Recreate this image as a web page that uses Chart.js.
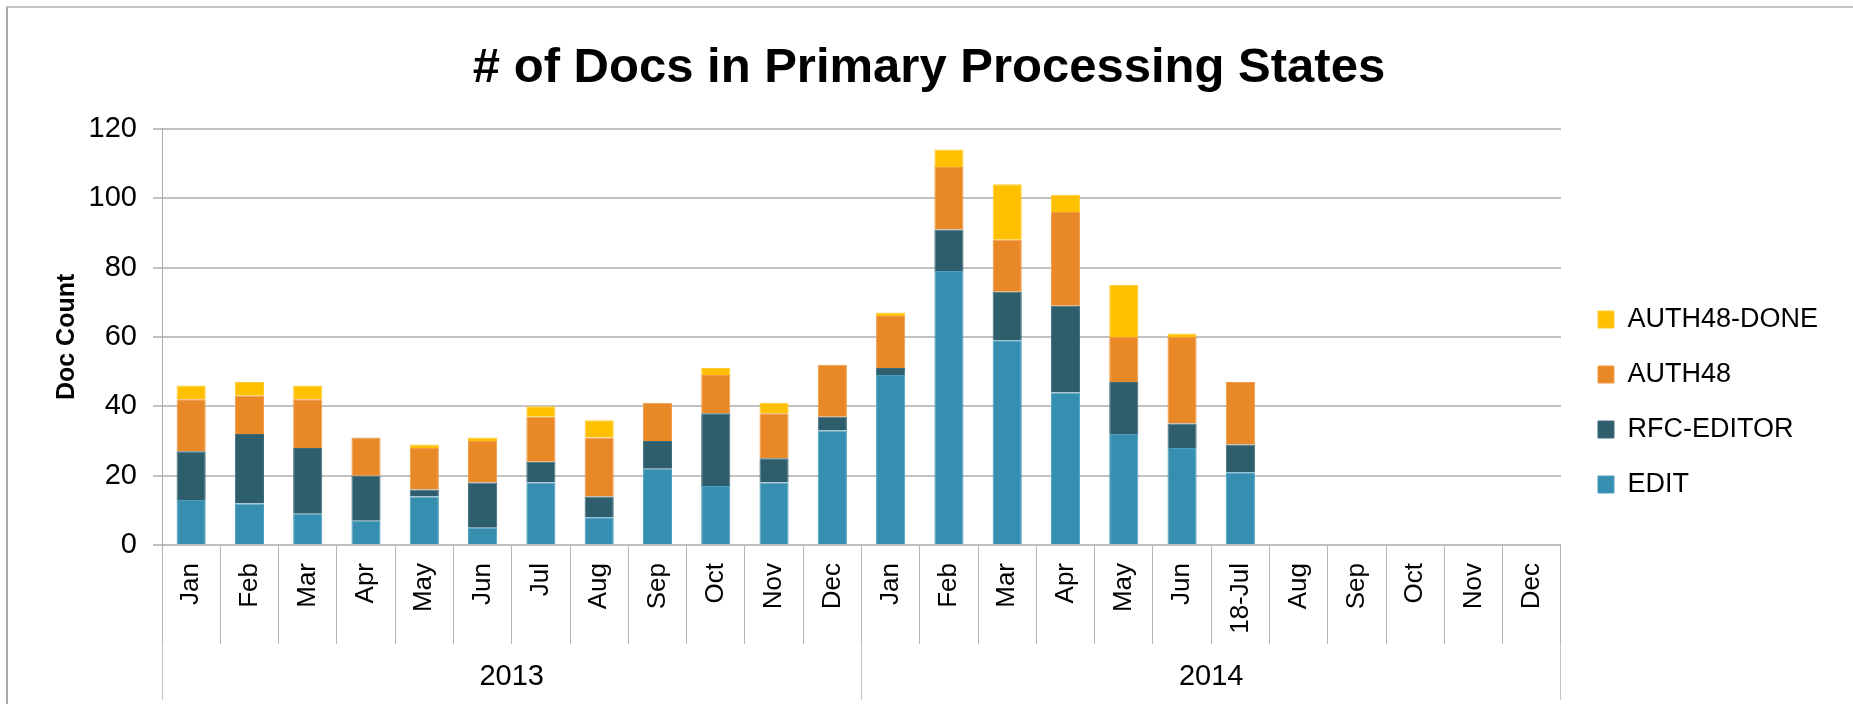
<!DOCTYPE html>
<html>
<head>
<meta charset="utf-8">
<script src="https://cdn.jsdelivr.net/npm/chart.js@4.4.0/dist/chart.umd.min.js"></script>
<style>
  html, body { margin: 0; padding: 0; background: #fff; }
  #wrap { position: relative; width: 1853px; height: 704px; overflow: hidden; }
  #frame { position: absolute; left: 6px; top: 6px; width: 1900px; height: 760px;
    border-top: 2px solid #c4c4c4; border-left: 2px solid #a8a8a8; pointer-events: none; }
</style>
</head>
<body>
<div id="wrap">
  <canvas id="myChart" width="1853" height="704"></canvas>
  <div id="frame"></div>
</div>
<script>
const months = ['Jan', 'Feb', 'Mar', 'Apr', 'May', 'Jun', 'Jul', 'Aug', 'Sep', 'Oct', 'Nov', 'Dec',
  'Jan', 'Feb', 'Mar', 'Apr', 'May', 'Jun', '18-Jul', 'Aug', 'Sep', 'Oct', 'Nov', 'Dec'];
const years = ['2013', '2014'];
const yTicks = [0, 20, 40, 60, 80, 100, 120];

const edit = [13, 12, 9, 7, 14, 5, 18, 8, 22, 17, 18, 33, 49, 79, 59, 44, 32, 28, 21, null, null, null, null, null];
const rfcEditor = [14, 20, 19, 13, 2, 13, 6, 6, 8, 21, 7, 4, 2, 12, 14, 25, 15, 7, 8, null, null, null, null, null];
const auth48 = [15, 11, 14, 11, 12, 12, 13, 17, 11, 11, 13, 15, 15, 18, 15, 27, 13, 25, 18, null, null, null, null, null];
const auth48Done = [4, 4, 4, 0, 1, 1, 3, 5, 0, 2, 3, 0, 1, 5, 16, 5, 15, 1, 0, null, null, null, null, null];

Chart.defaults.font.family = '"Liberation Sans", Arial, sans-serif';
Chart.defaults.color = '#000';

function series(label, data, color, edge) {
  return {
    label: label,
    data: data,
    backgroundColor: color,
    borderColor: edge,
    borderWidth: 1,
    categoryPercentage: 1,
    barPercentage: 0.5
  };
}

// move title and legend a little, the way the original sheet places them
const nudge = {
  id: 'nudge',
  afterLayout: function (chart) {
    chart.titleBlock.left += 39;
    chart.legend.left += 9;
    chart.legend.right += 9;
    chart.legend.top += 52;
    chart.legend.bottom += 52;
  }
};

const ctx = document.getElementById('myChart');
new Chart(ctx, {
  type: 'bar',
  data: {
    labels: months,
    datasets: [
      series('EDIT', edit, '#368FB1', '#4c9fbe'),
      series('RFC-EDITOR', rfcEditor, '#2E5D6C', '#3d6b7a'),
      series('AUTH48', auth48, '#E98826', '#f09a45'),
      series('AUTH48-DONE', auth48Done, '#FFC000', '#ffcc33')
    ]
  },
  plugins: [nudge],
  options: {
    responsive: false,
    devicePixelRatio: 1,
    animation: false,
    layout: { padding: { left: 0, right: 34, top: 0, bottom: 4 } },
    plugins: {
      title: {
        display: true,
        text: '# of Docs in Primary Processing States',
        font: { size: 49, weight: 'bold' },
        color: '#000',
        padding: { top: 39, bottom: 31 }
      },
      legend: {
        position: 'right',
        reverse: true,
        labels: {
          boxWidth: 16,
          boxHeight: 17,
          padding: 28,
          font: { size: 27 },
          color: '#000'
        }
      },
      tooltip: { enabled: false }
    },
    scales: {
      x: {
        stacked: true,
        grid: { drawOnChartArea: false, tickLength: 99, color: '#b4b4b4', lineWidth: 1 },
        border: { color: '#bdbdbd', width: 2 },
        ticks: { minRotation: 90, maxRotation: 90, autoSkip: false, padding: -81, font: { size: 26 }, color: '#000' },
        afterFit: function (scale) { scale.height = 99; }
      },
      x2: {
        type: 'category',
        position: 'bottom',
        labels: years,
        offset: true,
        grid: { offset: true, drawOnChartArea: false, tickLength: 56, color: '#c4c4c4', lineWidth: 1 },
        border: { display: false },
        ticks: { maxRotation: 0, padding: -40, font: { size: 29 }, color: '#000' },
        afterFit: function (scale) { scale.height = 56; }
      },
      y: {
        stacked: true,
        min: 0,
        max: 120,
        afterBuildTicks: function (scale) { scale.ticks = yTicks.map(v => ({ value: v })); },
        grid: { color: '#c2c2c2', lineWidth: 2, tickLength: 9 },
        border: { color: '#a8a8a8', width: 1 },
        ticks: { padding: 16, font: { size: 29 }, color: '#000' },
        title: { display: true, text: 'Doc Count', font: { size: 25, weight: 'bold' }, color: '#000', padding: { top: 52, bottom: 0 } },
        afterFit: function (scale) { scale.width = 162; }
      }
    }
  }
});
</script>
</body>
</html>
